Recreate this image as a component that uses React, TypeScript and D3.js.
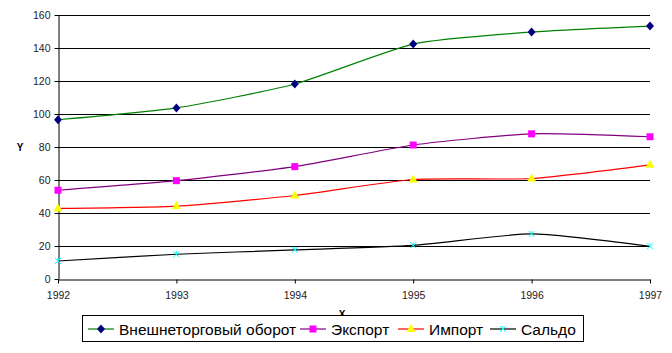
import React, { useEffect, useRef } from 'react';
import * as d3 from 'd3';

const years = [1992, 1993, 1994, 1995, 1996, 1997];
const turnover = [96.5, 103.7, 118.2, 142.4, 149.7, 153.3];
const exports = [53.8, 59.6, 68.1, 81.2, 88.0, 86.2];
const imports = [42.8, 44.2, 50.6, 60.3, 60.9, 69.2];
const saldo = [10.9, 15.0, 17.6, 20.4, 27.3, 19.8];
const yTicks = [0, 20, 40, 60, 80, 100, 120, 140, 160];
const seriesNames = ['Внешнеторговый оборот', 'Экспорт', 'Импорт', 'Сальдо'];

const App = () => {
  const svgRef = useRef(null);

  useEffect(() => {
    const W = 672, H = 353;
    const svg = d3.select(svgRef.current).attr('width', W).attr('height', H);
    svg.selectAll('*').remove();

    const x = d3.scaleLinear().domain([1992, 1997]).range([58, 650]);
    const y = d3.scaleLinear().domain([0, 160]).range([279, 15]);

    const font = 'Liberation Sans, Arial, sans-serif';

    // grid lines
    svg.append('g').selectAll('line').data(yTicks.filter(t => t > 0)).join('line')
      .attr('x1', x(1992)).attr('x2', x(1997))
      .attr('y1', d => Math.round(y(d)) + 0.5).attr('y2', d => Math.round(y(d)) + 0.5)
      .attr('stroke', '#000').attr('stroke-width', 1);

    // y axis
    const yAxis = svg.append('g').attr('transform', `translate(${x(1992) + 0.5},0)`)
      .call(d3.axisLeft(y).tickValues(yTicks).tickSize(4).tickSizeOuter(0).tickPadding(4));
    yAxis.select('.domain').attr('stroke', '#000');
    yAxis.selectAll('text').attr('font-family', font).attr('font-size', 10.5).attr('fill', '#222');

    // x axis
    const xAxis = svg.append('g').attr('transform', `translate(0,${Math.round(y(0)) + 0.5})`)
      .call(d3.axisBottom(x).tickValues(years).tickFormat(d3.format('d')).tickSize(4).tickSizeOuter(0).tickPadding(8));
    xAxis.select('.domain').attr('stroke', '#000');
    xAxis.selectAll('text').attr('font-family', font).attr('font-size', 10.5).attr('fill', '#222');

    svg.append('text').attr('x', 20).attr('y', 151).attr('text-anchor', 'middle')
      .attr('font-family', font).attr('font-size', 10).attr('font-weight', 'bold').text('Y');
    svg.append('text').attr('x', 342).attr('y', 318).attr('text-anchor', 'middle')
      .attr('font-family', font).attr('font-size', 10).attr('font-weight', 'bold').text('X');

    const series = [
      { name: seriesNames[0], values: turnover, line: '#008000', marker: '#000080', shape: 'diamond' },
      { name: seriesNames[1], values: exports, line: '#800080', marker: '#ff00ff', shape: 'square' },
      { name: seriesNames[2], values: imports, line: '#ff0000', marker: '#ffff00', shape: 'triangle' },
      { name: seriesNames[3], values: saldo, line: '#000000', marker: '#00ffff', shape: 'x' },
    ];

    const line = d3.line<number>()
      .x((d, i) => x(years[i]))
      .y(d => y(d))
      .curve(d3.curveCardinal.tension(0.4));

    const drawMarker = (g, shape, color, cx, cy) => {
      if (shape === 'diamond') {
        g.append('path').attr('d', `M${cx},${cy - 4.5}L${cx + 4},${cy}L${cx},${cy + 4.5}L${cx - 4},${cy}Z`).attr('fill', color);
      } else if (shape === 'square') {
        g.append('rect').attr('x', cx - 3.5).attr('y', cy - 3.5).attr('width', 7).attr('height', 7).attr('fill', color);
      } else if (shape === 'triangle') {
        g.append('path').attr('d', `M${cx},${cy - 5}L${cx + 4.5},${cy + 3}L${cx - 4.5},${cy + 3}Z`).attr('fill', color);
      } else {
        g.append('path').attr('d', `M${cx - 3},${cy - 3}L${cx + 3},${cy + 3}M${cx + 3},${cy - 3}L${cx - 3},${cy + 3}M${cx},${cy - 3}L${cx},${cy + 1}`)
          .attr('stroke', color).attr('stroke-width', 1).attr('fill', 'none');
      }
    };

    series.forEach(s => {
      svg.append('path').datum(s.values).attr('d', line)
        .attr('fill', 'none').attr('stroke', s.line).attr('stroke-width', 1.2);
      const g = svg.append('g');
      s.values.forEach((v, i) => drawMarker(g, s.shape, s.marker, x(years[i]), y(v)));
    });

    // legend
    svg.append('rect').attr('x', 82.5).attr('y', 315.5).attr('width', 501).attr('height', 26)
      .attr('fill', '#fff').attr('stroke', '#000');
    const legendX = [88, 300, 398, 490];
    series.forEach((s, i) => {
      const lx = legendX[i];
      const ly = 329;
      svg.append('line').attr('x1', lx).attr('x2', lx + 26).attr('y1', ly).attr('y2', ly)
        .attr('stroke', s.line).attr('stroke-width', 1.2);
      drawMarker(svg.append('g'), s.shape, s.marker, lx + 13, ly);
      svg.append('text').attr('x', lx + 31).attr('y', ly + 5.5)
        .attr('font-family', font).attr('font-size', 15.5).attr('fill', '#000').text(s.name);
    });
  }, []);

  return <svg ref={svgRef} style={{ position: 'absolute', left: 0, top: 0 }}></svg>;
};

export default App;
